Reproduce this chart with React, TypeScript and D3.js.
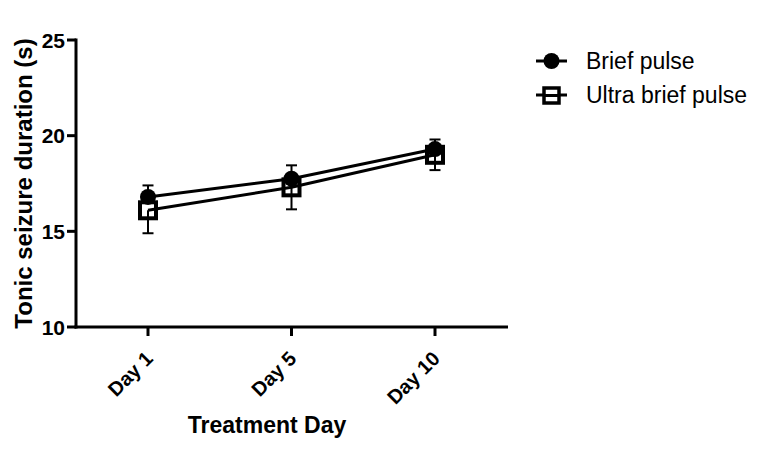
import React from "react";
import * as d3 from "d3";

const days = ["Day 1", "Day 5", "Day 10"];
const briefMean = [16.8, 17.75, 19.3];
const briefSem = [0.6, 0.7, 0.5];
const ultraMean = [16.1, 17.3, 19.0];
const ultraSem = [1.2, 1.15, 0.8];
const yTicks = [10, 15, 20, 25];
const seriesNames = ["Brief pulse", "Ultra brief pulse"];

const FONT = "'Liberation Sans', Arial, Helvetica, sans-serif";

export default function App() {
  const W = 760, H = 459;
  const x0 = 76, x1 = 508, yTop = 40, yBot = 327;
  const y = d3.scaleLinear().domain([10, 25]).range([yBot, yTop]);
  const x = d3.scalePoint<string>().domain(days).range([148, 435]);
  const line = d3.line<number>().x((_, i) => x(days[i])!).y((v) => y(v));
  const sw = 3;
  const sq = 16;

  return (
    <svg width={W} height={H} style={{ position: "absolute", left: 0, top: 0, background: "#fff" }}>
      <rect width={W} height={H} fill="#fff" />
      {/* axes */}
      <line x1={x0} x2={x0} y1={yTop - 1.5} y2={yBot + 1.5} stroke="#000" strokeWidth={sw} />
      <line x1={x0 - 1.5} x2={x1} y1={yBot} y2={yBot} stroke="#000" strokeWidth={sw} />
      {yTicks.map((t) => (
        <g key={t}>
          <line x1={x0 - 9} x2={x0} y1={y(t)} y2={y(t)} stroke="#000" strokeWidth={sw} />
          <text x={x0 - 11} y={y(t)} dy="0.36em" textAnchor="end" fontFamily={FONT} fontWeight="bold" fontSize={21} fill="#000">
            {t}
          </text>
        </g>
      ))}
      {days.map((d) => (
        <g key={d}>
          <line x1={x(d)} x2={x(d)} y1={yBot} y2={yBot + 9} stroke="#000" strokeWidth={sw} />
          <text
            transform={`translate(${x(d)! + 6},${yBot + 33}) rotate(-45)`}
            textAnchor="end"
            fontFamily={FONT}
            fontWeight="bold"
            fontSize={20}
            fill="#000"
          >
            {d}
          </text>
        </g>
      ))}
      <text x={267} y={433} textAnchor="middle" fontFamily={FONT} fontWeight="bold" fontSize={23} fill="#000">
        Treatment Day
      </text>
      <text
        transform={`translate(32,${(yTop + yBot) / 2}) rotate(-90)`}
        textAnchor="middle"
        fontFamily={FONT}
        fontWeight="bold"
        fontSize={24}
        fill="#000"
      >
        Tonic seizure duration (s)
      </text>

      {/* error bars */}
      {days.map((d, i) => (
        <g key={"eb" + d} stroke="#000" strokeWidth={2}>
          <line x1={x(d)} x2={x(d)} y1={y(briefMean[i])} y2={y(briefMean[i] + briefSem[i])} />
          <line x1={x(d)! - 5.5} x2={x(d)! + 5.5} y1={y(briefMean[i] + briefSem[i])} y2={y(briefMean[i] + briefSem[i])} />
          <line x1={x(d)} x2={x(d)} y1={y(ultraMean[i])} y2={y(ultraMean[i] - ultraSem[i])} />
          <line x1={x(d)! - 5.5} x2={x(d)! + 5.5} y1={y(ultraMean[i] - ultraSem[i])} y2={y(ultraMean[i] - ultraSem[i])} />
        </g>
      ))}
      {/* lines */}
      <path d={line(briefMean)!} fill="none" stroke="#000" strokeWidth={sw} />
      <path d={line(ultraMean)!} fill="none" stroke="#000" strokeWidth={sw} />
      {/* markers */}
      {days.map((d, i) => (
        <circle key={"c" + d} cx={x(d)} cy={y(briefMean[i])} r={8} fill="#000" />
      ))}
      {days.map((d, i) => (
        <rect key={"s" + d} x={x(d)! - sq / 2} y={y(ultraMean[i]) - sq / 2} width={sq} height={sq} fill="none" stroke="#000" strokeWidth={4} />
      ))}

      {/* legend */}
      <g>
        <line x1={536} x2={567} y1={61} y2={61} stroke="#000" strokeWidth={sw} />
        <circle cx={551.5} cy={61} r={8} fill="#000" />
        <text x={586} y={61} dy="0.36em" fontFamily={FONT} fontSize={23} fill="#000">
          {seriesNames[0]}
        </text>
        <line x1={536} x2={567} y1={95} y2={95} stroke="#000" strokeWidth={sw} />
        <rect x={544} y={88} width={15} height={15} fill="#fff" stroke="#000" strokeWidth={3.5} />
        <line x1={544} x2={559} y1={95.5} y2={95.5} stroke="#000" strokeWidth={sw} />
        <text x={586} y={95} dy="0.36em" fontFamily={FONT} fontSize={23} fill="#000">
          {seriesNames[1]}
        </text>
      </g>
    </svg>
  );
}
